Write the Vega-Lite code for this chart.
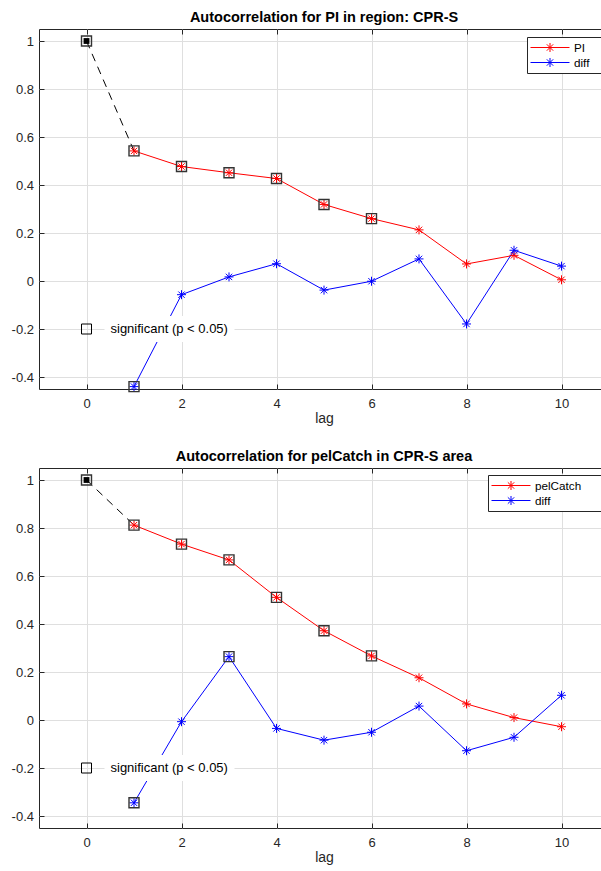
{
  "$schema": "https://vega.github.io/schema/vega-lite/v6.json",
  "padding": {"top": 9, "left": 10, "right": 0, "bottom": 0},
  "spacing": 22,
  "config": {
    "font": "Liberation Sans",
    "view": {"stroke": "#262626", "strokeWidth": 1},
    "title": {"fontSize": 14.5, "fontWeight": "bold", "color": "#000000", "offset": 3, "baseline": "alphabetic", "anchor": "middle", "frame": "group"}
  },
  "resolve": {"scale": {"color": "independent"}, "legend": {"color": "independent"}},
  "datasets": {
    "pi": [
      {"lag": 0, "r": 1.0, "series": "PI", "sig": true},
      {"lag": 1, "r": 0.542, "series": "PI", "sig": true},
      {"lag": 2, "r": 0.477, "series": "PI", "sig": true},
      {"lag": 3, "r": 0.451, "series": "PI", "sig": true},
      {"lag": 4, "r": 0.427, "series": "PI", "sig": true},
      {"lag": 5, "r": 0.319, "series": "PI", "sig": true},
      {"lag": 6, "r": 0.26, "series": "PI", "sig": true},
      {"lag": 7, "r": 0.213, "series": "PI", "sig": false},
      {"lag": 8, "r": 0.071, "series": "PI", "sig": false},
      {"lag": 9, "r": 0.107, "series": "PI", "sig": false},
      {"lag": 10, "r": 0.005, "series": "PI", "sig": false},
      {"lag": 1, "r": -0.44, "series": "diff", "sig": true},
      {"lag": 2, "r": -0.057, "series": "diff", "sig": false},
      {"lag": 3, "r": 0.017, "series": "diff", "sig": false},
      {"lag": 4, "r": 0.072, "series": "diff", "sig": false},
      {"lag": 5, "r": -0.038, "series": "diff", "sig": false},
      {"lag": 6, "r": -0.001, "series": "diff", "sig": false},
      {"lag": 7, "r": 0.092, "series": "diff", "sig": false},
      {"lag": 8, "r": -0.179, "series": "diff", "sig": false},
      {"lag": 9, "r": 0.128, "series": "diff", "sig": false},
      {"lag": 10, "r": 0.062, "series": "diff", "sig": false}
    ],
    "pel": [
      {"lag": 0, "r": 1.0, "series": "pelCatch", "sig": true},
      {"lag": 1, "r": 0.812, "series": "pelCatch", "sig": true},
      {"lag": 2, "r": 0.733, "series": "pelCatch", "sig": true},
      {"lag": 3, "r": 0.667, "series": "pelCatch", "sig": true},
      {"lag": 4, "r": 0.511, "series": "pelCatch", "sig": true},
      {"lag": 5, "r": 0.372, "series": "pelCatch", "sig": true},
      {"lag": 6, "r": 0.267, "series": "pelCatch", "sig": true},
      {"lag": 7, "r": 0.176, "series": "pelCatch", "sig": false},
      {"lag": 8, "r": 0.067, "series": "pelCatch", "sig": false},
      {"lag": 9, "r": 0.01, "series": "pelCatch", "sig": false},
      {"lag": 10, "r": -0.028, "series": "pelCatch", "sig": false},
      {"lag": 1, "r": -0.345, "series": "diff", "sig": true},
      {"lag": 2, "r": -0.007, "series": "diff", "sig": false},
      {"lag": 3, "r": 0.264, "series": "diff", "sig": true},
      {"lag": 4, "r": -0.035, "series": "diff", "sig": false},
      {"lag": 5, "r": -0.084, "series": "diff", "sig": false},
      {"lag": 6, "r": -0.051, "series": "diff", "sig": false},
      {"lag": 7, "r": 0.058, "series": "diff", "sig": false},
      {"lag": 8, "r": -0.128, "series": "diff", "sig": false},
      {"lag": 9, "r": -0.072, "series": "diff", "sig": false},
      {"lag": 10, "r": 0.103, "series": "diff", "sig": false}
    ]
  },
  "vconcat": [
    {
      "width": 570,
      "height": 360,
      "title": {"text": "Autocorrelation for PI in region: CPR-S"},
      "data": {"name": "pi"},
      "resolve": {"axis": {"x": "independent"}},
      "encoding": {
        "x": {"field": "lag", "type": "quantitative", "scale": {"domain": [-1, 11], "nice": false, "zero": false}, "axis": null},
        "y": {"field": "r", "type": "quantitative", "scale": {"domain": [-0.45, 1.05], "nice": false, "zero": false},
          "axis": {"values": [-0.4, -0.2, 0, 0.2, 0.4, 0.6, 0.8, 1], "title": null, "grid": true, "gridColor": "#dfdfdf", "domain": false, "tickSize": -5, "tickColor": "#262626", "labelPadding": 10.5, "labelFontSize": 13, "labelColor": "#262626", "labelExpr": "replace(format(datum.value, '~g'), '\u2212', '-')"}}
      },
      "layer": [
        {
          "transform": [{"filter": "datum.series == 'PI' && datum.lag <= 1"}],
          "mark": {"type": "line", "color": "#000000", "strokeWidth": 1, "strokeDash": [8, 6]},
          "encoding": {
            "x": {"field": "lag", "type": "quantitative", "scale": {"domain": [-1, 11], "nice": false, "zero": false},
              "axis": {"values": [0, 2, 4, 6, 8, 10], "title": "lag", "grid": true, "gridColor": "#dfdfdf", "domain": false, "tickSize": -5, "tickColor": "#262626", "labelPadding": 13, "labelFontSize": 13, "labelColor": "#262626", "labelFlush": false, "titleFontSize": 14, "titleFontWeight": "normal", "titleColor": "#262626", "titlePadding": 1}}
          }
        },
        {
          "transform": [{"filter": "datum.lag >= 1"}],
          "mark": {"type": "line", "strokeWidth": 1},
          "encoding": {
            "x": {"field": "lag", "type": "quantitative", "scale": {"domain": [-1, 11], "nice": false, "zero": false},
              "axis": {"orient": "top", "values": [0, 2, 4, 6, 8, 10], "title": null, "labels": false, "grid": false, "domain": false, "tickSize": -5, "tickColor": "#262626"}},
            "color": {"field": "series", "type": "nominal", "scale": {"domain": ["PI", "diff"], "range": ["#ff0000", "#0000ff"]},
              "legend": {"title": null, "orient": "none", "legendX": 488, "legendY": 8, "direction": "vertical", "symbolType": "M-1,0L4.571,0M1.143,0L2.429,0M1.786,-0.643L1.786,0.643M1.331,-0.455L2.241,0.455M1.331,0.455L2.241,-0.455", "symbolSize": 196, "symbolStrokeWidth": 1, "symbolFillColor": "transparent", "labelFontSize": 11.7, "labelColor": "#000000", "labelOffset": 29, "labelExpr": "datum.label + '\u00a0\u00a0\u00a0\u00a0\u200b'", "padding": 3, "rowPadding": 0, "strokeColor": "#262626", "fillColor": "#ffffff", "cornerRadius": 0}}
          }
        },
        {
          "transform": [{"filter": "datum.lag >= 1"}],
          "mark": {"type": "point", "shape": "M-1,0L1,0M0,-1L0,1M-0.707,-0.707L0.707,0.707M-0.707,0.707L0.707,-0.707", "filled": false, "size": 81, "strokeWidth": 1, "opacity": 1},
          "encoding": {
            "color": {"field": "series", "type": "nominal", "scale": {"domain": ["PI", "diff"], "range": ["#ff0000", "#0000ff"]}, "legend": null}
          }
        },
        {
          "transform": [{"filter": "datum.sig"}],
          "mark": {"type": "point", "shape": "square", "filled": false, "size": 100, "stroke": "#333333", "strokeWidth": 1.4, "opacity": 1}
        },
        {
          "transform": [{"filter": "datum.lag == 0"}],
          "mark": {"type": "point", "shape": "square", "filled": true, "size": 34, "color": "#000000", "opacity": 1}
        },
        {
          "data": {"values": [{"lag": 0, "r": -0.2, "label": "significant (p < 0.05)"}]},
          "mark": {"type": "point", "shape": "M-1,-0.2L1,-0.2L1,0.2L-1,0.2Z", "filled": true, "size": 16900, "color": "#ffffff", "opacity": 1, "xOffset": 83}
        },
        {
          "data": {"values": [{"lag": 0, "r": -0.2, "label": "significant (p < 0.05)"}]},
          "mark": {"type": "point", "shape": "square", "filled": false, "size": 100, "stroke": "#000000", "strokeWidth": 1, "opacity": 1}
        },
        {
          "data": {"values": [{"lag": 0, "r": -0.2, "label": "significant (p < 0.05)"}]},
          "mark": {"type": "text", "align": "left", "baseline": "middle", "dx": 24, "fontSize": 13, "color": "#000000"},
          "encoding": {"text": {"field": "label"}}
        }
      ]
    },
    {
      "width": 570,
      "height": 360,
      "title": {"text": "Autocorrelation for pelCatch in CPR-S area"},
      "data": {"name": "pel"},
      "resolve": {"axis": {"x": "independent"}},
      "encoding": {
        "x": {"field": "lag", "type": "quantitative", "scale": {"domain": [-1, 11], "nice": false, "zero": false}, "axis": null},
        "y": {"field": "r", "type": "quantitative", "scale": {"domain": [-0.45, 1.05], "nice": false, "zero": false},
          "axis": {"values": [-0.4, -0.2, 0, 0.2, 0.4, 0.6, 0.8, 1], "title": null, "grid": true, "gridColor": "#dfdfdf", "domain": false, "tickSize": -5, "tickColor": "#262626", "labelPadding": 10.5, "labelFontSize": 13, "labelColor": "#262626", "labelExpr": "replace(format(datum.value, '~g'), '\u2212', '-')"}}
      },
      "layer": [
        {
          "transform": [{"filter": "datum.series == 'pelCatch' && datum.lag <= 1"}],
          "mark": {"type": "line", "color": "#000000", "strokeWidth": 1, "strokeDash": [8, 6]},
          "encoding": {
            "x": {"field": "lag", "type": "quantitative", "scale": {"domain": [-1, 11], "nice": false, "zero": false},
              "axis": {"values": [0, 2, 4, 6, 8, 10], "title": "lag", "grid": true, "gridColor": "#dfdfdf", "domain": false, "tickSize": -5, "tickColor": "#262626", "labelPadding": 13, "labelFontSize": 13, "labelColor": "#262626", "labelFlush": false, "titleFontSize": 14, "titleFontWeight": "normal", "titleColor": "#262626", "titlePadding": 1}}
          }
        },
        {
          "transform": [{"filter": "datum.lag >= 1"}],
          "mark": {"type": "line", "strokeWidth": 1},
          "encoding": {
            "x": {"field": "lag", "type": "quantitative", "scale": {"domain": [-1, 11], "nice": false, "zero": false},
              "axis": {"orient": "top", "values": [0, 2, 4, 6, 8, 10], "title": null, "labels": false, "grid": false, "domain": false, "tickSize": -5, "tickColor": "#262626"}},
            "color": {"field": "series", "type": "nominal", "scale": {"domain": ["pelCatch", "diff"], "range": ["#ff0000", "#0000ff"]},
              "legend": {"title": null, "orient": "none", "legendX": 449, "legendY": 7, "direction": "vertical", "symbolType": "M-1,0L4.571,0M1.143,0L2.429,0M1.786,-0.643L1.786,0.643M1.331,-0.455L2.241,0.455M1.331,0.455L2.241,-0.455", "symbolSize": 196, "symbolStrokeWidth": 1, "symbolFillColor": "transparent", "labelFontSize": 11.7, "labelColor": "#000000", "labelOffset": 29, "labelExpr": "datum.label + '\u00a0\u00a0\u00a0\u00a0\u00a0\u200b'", "padding": 3, "rowPadding": 0, "strokeColor": "#262626", "fillColor": "#ffffff", "cornerRadius": 0}}
          }
        },
        {
          "transform": [{"filter": "datum.lag >= 1"}],
          "mark": {"type": "point", "shape": "M-1,0L1,0M0,-1L0,1M-0.707,-0.707L0.707,0.707M-0.707,0.707L0.707,-0.707", "filled": false, "size": 81, "strokeWidth": 1, "opacity": 1},
          "encoding": {
            "color": {"field": "series", "type": "nominal", "scale": {"domain": ["pelCatch", "diff"], "range": ["#ff0000", "#0000ff"]}, "legend": null}
          }
        },
        {
          "transform": [{"filter": "datum.sig"}],
          "mark": {"type": "point", "shape": "square", "filled": false, "size": 100, "stroke": "#333333", "strokeWidth": 1.4, "opacity": 1}
        },
        {
          "transform": [{"filter": "datum.lag == 0"}],
          "mark": {"type": "point", "shape": "square", "filled": true, "size": 34, "color": "#000000", "opacity": 1}
        },
        {
          "data": {"values": [{"lag": 0, "r": -0.2, "label": "significant (p < 0.05)"}]},
          "mark": {"type": "point", "shape": "M-1,-0.2L1,-0.2L1,0.2L-1,0.2Z", "filled": true, "size": 16900, "color": "#ffffff", "opacity": 1, "xOffset": 83}
        },
        {
          "data": {"values": [{"lag": 0, "r": -0.2, "label": "significant (p < 0.05)"}]},
          "mark": {"type": "point", "shape": "square", "filled": false, "size": 100, "stroke": "#000000", "strokeWidth": 1, "opacity": 1}
        },
        {
          "data": {"values": [{"lag": 0, "r": -0.2, "label": "significant (p < 0.05)"}]},
          "mark": {"type": "text", "align": "left", "baseline": "middle", "dx": 24, "fontSize": 13, "color": "#000000"},
          "encoding": {"text": {"field": "label"}}
        }
      ]
    }
  ]
}
